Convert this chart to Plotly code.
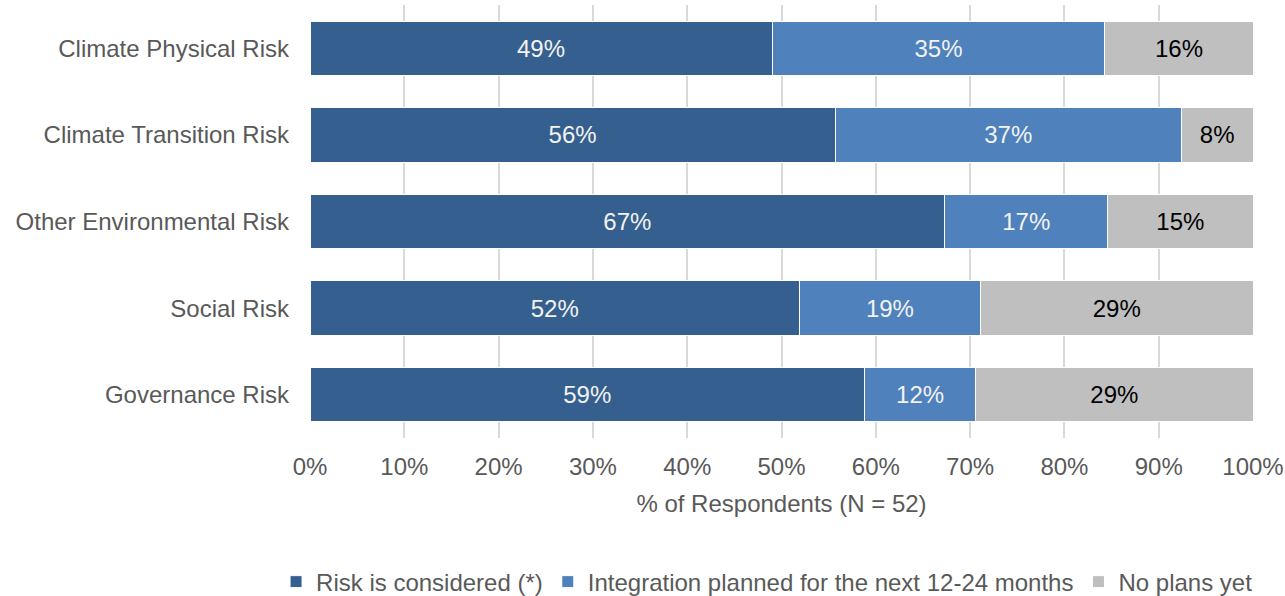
import plotly.graph_objects as go

categories = ["Climate Physical Risk", "Climate Transition Risk", "Other Environmental Risk", "Social Risk", "Governance Risk"]
considered = [49.0, 55.7, 67.3, 51.9, 58.8]
planned = [35.3, 36.7, 17.3, 19.2, 11.8]
no_plans = [15.7, 7.6, 15.4, 28.9, 29.4]
considered_lbl = ["49%", "56%", "67%", "52%", "59%"]
planned_lbl = ["35%", "37%", "17%", "19%", "12%"]
no_plans_lbl = ["16%", "8%", "15%", "29%", "29%"]
series_names = ["Risk is considered (*)", "Integration planned for the next 12-24 months", "No plans yet"]
tick_vals = [0, 10, 20, 30, 40, 50, 60, 70, 80, 90, 100]
tick_text = ["0%", "10%", "20%", "30%", "40%", "50%", "60%", "70%", "80%", "90%", "100%"]

FONT = "Liberation Sans, Arial, sans-serif"
FS = 24
colors = ["#355F8F", "#4F81BD", "#BFBFBF"]
text_colors = ["#F2F2F2", "#F2F2F2", "#000000"]

fig = go.Figure()
for vals, lbls, name, c, tc in zip([considered, planned, no_plans],
                                   [considered_lbl, planned_lbl, no_plans_lbl],
                                   series_names, colors, text_colors):
    fig.add_trace(go.Bar(
        y=categories, x=vals, name=name, orientation="h",
        marker=dict(color=c, line=dict(color="#FFFFFF", width=1)),
        text=lbls, textposition="inside", insidetextanchor="middle",
        textfont=dict(family=FONT, size=FS, color=tc),
        constraintext="none",
    ))

fig.update_layout(
    width=1285, height=596,
    barmode="stack", bargap=0.37,
    plot_bgcolor="white", paper_bgcolor="white",
    margin=dict(l=310, r=32, t=5, b=158, autoexpand=False),
    font=dict(family=FONT, size=FS, color="#595959"),
    legend=dict(orientation="h", xref="paper", yref="paper",
                x=-0.036, xanchor="left", y=-0.3326, yanchor="middle",
                font=dict(family=FONT, size=FS, color="#595959"),
                itemwidth=30, traceorder="normal"),
    uniformtext=dict(mode=False),
)
fig.update_xaxes(range=[0, 100], tickvals=tick_vals, ticktext=tick_text,
                 showgrid=True, gridcolor="#D9D9D9", gridwidth=2,
                 zeroline=False, showline=False, automargin=False,
                 ticklabelstandoff=12,
                 tickfont=dict(family=FONT, size=FS, color="#595959"),
                 title=dict(text="% of Respondents (N = 52)", standoff=16,
                            font=dict(family=FONT, size=FS, color="#595959")))
fig.update_yaxes(categoryorder="array", categoryarray=categories, autorange="reversed",
                 showgrid=False, showline=False, ticklabelstandoff=20, automargin=False,
                 tickfont=dict(family=FONT, size=FS, color="#595959"))

fig.write_html("out.html", config={"displayModeBar": False},
               post_script="document.body.style.margin='0px';")
